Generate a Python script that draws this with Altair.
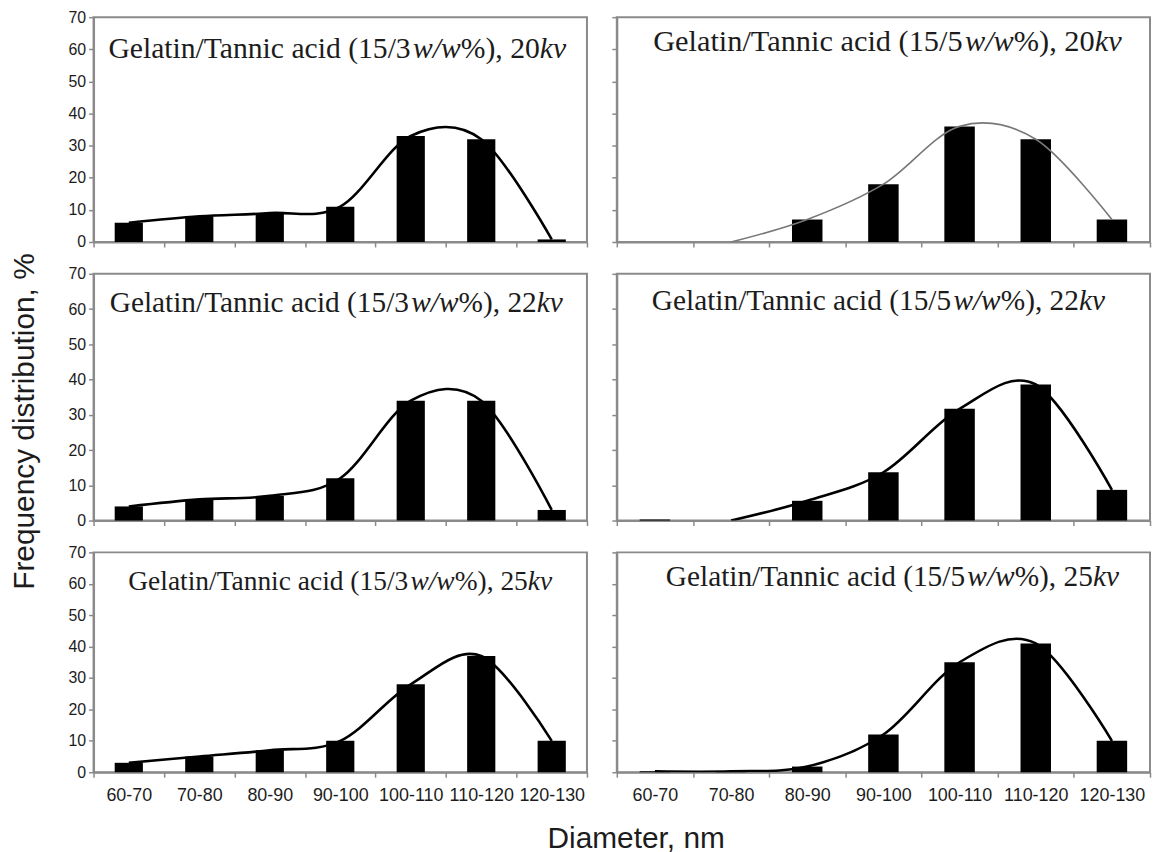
import altair as alt
import pandas as pd

categories = ["60-70", "70-80", "80-90", "90-100", "100-110", "110-120", "120-130"]
ratios = ["15/3", "15/5"]
voltages = ["20", "22", "25"]
y_ticks = [0, 10, 20, 30, 40, 50, 60, 70]

# bar heights (frequency, %)
bars_3_20 = [6, 8, 9, 11, 33, 32, 0.8]
bars_5_20 = [0, 0, 7, 18, 36, 32, 7]
bars_3_22 = [4, 6, 7, 12, 34, 34, 3]
bars_5_22 = [0.3, 0, 5.6, 13.7, 31.7, 38.6, 8.7]
bars_3_25 = [3, 5, 7, 10, 28, 37, 10]
bars_5_25 = [0.3, 0.3, 1.8, 12, 35, 41, 10]

# points of the smoothed curves
curve_3_20 = [6, 8, 9, 11, 33, 32, 0.8]
curve_5_20 = [None, 0, 7, 18, 36, 32, 7]
curve_3_22 = [4, 6, 7, 12, 34, 34, 3]
curve_5_22 = [None, 0, 5.6, 13.7, 31.7, 38.6, 8.7]
curve_3_25 = [3, 5, 7, 10, 28, 37, 10]
curve_5_25 = [0.3, 0.3, 1.8, 12, 35, 41, 10]

BARS = [[bars_3_20, bars_5_20], [bars_3_22, bars_5_22], [bars_3_25, bars_5_25]]
CURVES = [[curve_3_20, curve_5_20], [curve_3_22, curve_5_22], [curve_3_25, curve_5_25]]

# layout / style
COL_W = [496, 536]
ROW_H = [226, 248, 221]
GREY = "#8a8a8a"
INK = "#1c1c1c"
TITLE_SIZE = [[29.8, 30.5], [29.5, 29.5], [27.6, 29.5]]
TITLE_Y = [[41, 34], [38, 36], [38, 34]]
TITLE_DX = [[-3, 4], [-4, -5], [0, 9]]

REG = {'G': 722, 'e': 444, 'l': 278, 'a': 444, 't': 278, 'i': 278, 'n': 500, '/': 278,
       'T': 611, 'c': 444, ' ': 250, 'd': 500, '(': 333, ')': 333, '1': 500, '5': 500,
       '3': 500, '2': 500, '0': 500, '%': 833, ',': 250}
ITA = {'w': 667, '/': 278, 'k': 444, 'v': 444}


def seg_width(s, italic, size):
    tbl = ITA if italic else REG
    return sum(tbl.get(ch, 500) for ch in s) * size / 1000.0


def title_layers(row, col):
    parts = [("Gelatin/Tannic acid (" + ratios[col], False), ("w/w", True),
             ("%), " + voltages[row], False), ("kv", True)]
    size = TITLE_SIZE[row][col]
    total = sum(seg_width(s, it, size) for s, it in parts)
    x0 = COL_W[col] / 2 - total / 2 + TITLE_DX[row][col]
    one = pd.DataFrame({"k": [0]})
    layers = []
    for s, it in parts:
        layers.append(
            alt.Chart(one).mark_text(
                align="left", baseline="alphabetic", font="Liberation Serif",
                fontSize=size, fontStyle="italic" if it else "normal", color=INK
            ).encode(x=alt.value(x0), y=alt.value(TITLE_Y[row][col]), text=alt.value(s))
        )
        x0 += seg_width(s, it, size)
    return layers


def panel(row, col):
    df = pd.DataFrame({"Diameter": categories,
                       "Frequency": BARS[row][col],
                       "Curve": CURVES[row][col]})
    left = col == 0
    bottom = row == 2

    xaxis_kw = dict(labels=bottom, tickBand="extent", labelAngle=0, labelFontSize=18,
                    labelPadding=9, labelFont="Liberation Sans", labelColor=INK,
                    labelOverlap=False)
    if bottom and left:
        xaxis_kw.update(title="Diameter, nm", titleX=545, titleY=67, titleAlign="center",
                        titleBaseline="middle", titleFontSize=30, titleFont="Liberation Sans",
                        titleFontWeight="normal", titleColor=INK)
    else:
        xaxis_kw.update(title="")

    yaxis_kw = dict(values=y_ticks, tickCount=8, labels=left, grid=False, labelFontSize=16,
                    labelFont="Liberation Sans", labelColor=INK, labelPadding=3,
                    labelOverlap=False, labelFlush=False)
    if left and row == 1:
        yaxis_kw.update(title="Frequency distribution, %", titleX=-69, titleY=148, titleAngle=270,
                        titleAlign="center", titleBaseline="middle", titleFontSize=30,
                        titleFont="Liberation Sans", titleFontWeight="normal", titleColor=INK)
    else:
        yaxis_kw.update(title="")

    x = alt.X("Diameter:N", sort=categories,
              scale=alt.Scale(paddingInner=0, paddingOuter=0),
              axis=alt.Axis(**xaxis_kw))
    yscale = alt.Scale(domain=[0, 70], nice=False)
    yaxis = alt.Axis(**yaxis_kw)

    bars = alt.Chart(df).mark_bar(color="black", width=alt.RelativeBandSize(0.4)).encode(
        x=x, y=alt.Y("Frequency:Q", scale=yscale, axis=yaxis))

    thin = (row == 0 and col == 1)
    curve = alt.Chart(df).mark_line(
        color="#777777" if thin else "black", strokeWidth=1.6 if thin else 2.6,
        interpolate="cardinal", clip=True
    ).encode(x=x, y=alt.Y("Curve:Q", scale=yscale, axis=yaxis))

    return alt.layer(bars, curve, *title_layers(row, col)).properties(
        width=COL_W[col], height=ROW_H[row])


panels = [panel(r, c) for r in range(3) for c in range(2)]

chart = alt.concat(
    *panels, columns=2, spacing={"row": 32, "column": 30}, bounds="flush", align="each"
).properties(
    padding={"left": 0, "top": -2, "right": 0, "bottom": 0}
).configure_view(
    stroke=GREY, strokeWidth=2
).configure_axis(
    domainColor=GREY, domainWidth=2, tickColor=GREY, tickWidth=1.5, tickSize=5,
    labelOverlap=False
)

chart.save("out.html", embed_options={"renderer": "svg", "actions": False})
